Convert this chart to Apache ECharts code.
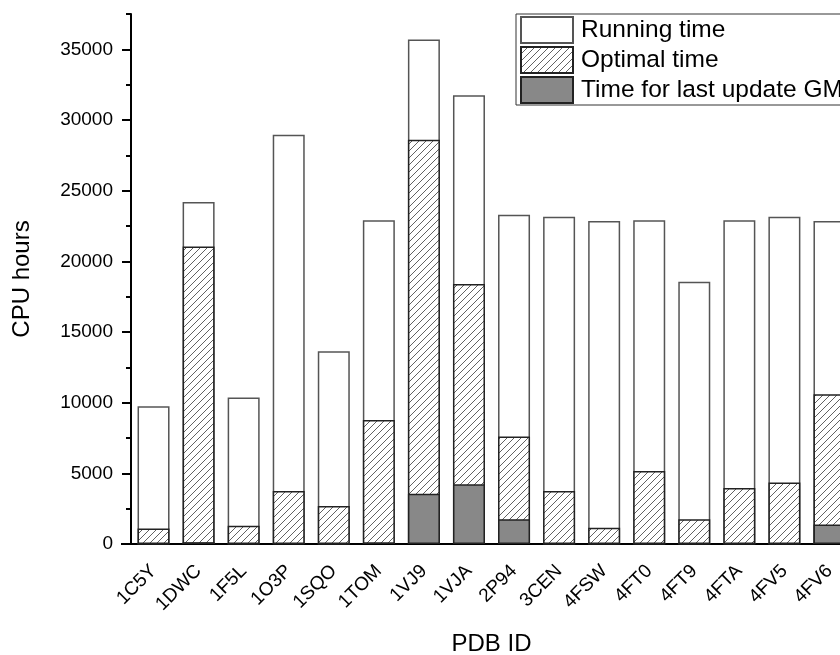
<!DOCTYPE html>
<html>
<head>
<meta charset="utf-8">
<script src="https://cdn.jsdelivr.net/npm/echarts@6/dist/echarts.min.js"></script>
<style>
html,body{margin:0;padding:0;background:#fff;}
#main{width:840px;height:655px;}
</style>
</head>
<body>
<div id="main"></div>
<script>
// PDB ids on x axis
var pdbIds=['1C5Y','1DWC','1F5L','1O3P','1SQO','1TOM','1VJ9','1VJA','2P94','3CEN','4FSW','4FT0','4FT9','4FTA','4FV5','4FV6'];
// CPU hours
var runningTime=[9750,24200,10370,28950,13630,22900,35700,31750,23300,23150,22850,22900,18550,22900,23150,22850];
var optimalTime=[1090,21050,1300,3750,2680,8780,28600,18400,7600,3750,1150,5170,1750,3970,4350,10600];
var lastUpdate=[0,120,0,40,0,100,3550,4230,1760,0,0,0,0,0,0,1380];
var majorTicks=[0,5000,10000,15000,20000,25000,30000,35000];
var minorTicks=[2500,7500,12500,17500,22500,27500,32500,37500];

//斜线填充
function hatch(){
	var c=document.createElement('canvas');
	c.width=7;c.height=7;
	var ctx=c.getContext('2d');
	ctx.fillStyle='#fff';
	ctx.fillRect(0,0,7,7);
	ctx.strokeStyle='#3a3a3a';
	ctx.lineWidth=0.8;
	ctx.beginPath();
	ctx.moveTo(0,7);ctx.lineTo(7,0);
	ctx.moveTo(-1,1);ctx.lineTo(1,-1);
	ctx.moveTo(6,8);ctx.lineTo(8,6);
	ctx.stroke();
	return c;
}

var chart=echarts.init(document.getElementById('main'));
var font='Liberation Sans';
var option={
	animation:false,
	backgroundColor:'#fff',
	grid:{left:131,right:-12,top:14,bottom:111,containLabel:false,outerBoundsMode:'none'},
	legend:{
		orient:'vertical',
		left:516,top:14,
		icon:'rect',
		itemWidth:52,itemHeight:26,itemGap:2,
		padding:[2,4,1,4],
		borderColor:'#333',borderWidth:1,
		textStyle:{fontFamily:font,fontSize:24.5,color:'#000',padding:[0,0,0,3]},
		data:['Running time','Optimal time','Time for last update GMA']
	},
	xAxis:{
		type:'category',
		data:pdbIds,
		name:'PDB ID',
		nameLocation:'middle',
		nameGap:88,
		nameTextStyle:{fontFamily:font,fontSize:24,color:'#000'},
		axisLine:{lineStyle:{color:'#000',width:2}},
		axisTick:{alignWithLabel:true,length:10,lineStyle:{color:'#000',width:2}},
		axisLabel:{rotate:45,margin:24,fontFamily:font,fontSize:19,color:'#000'}
	},
	yAxis:[{
		type:'value',
		min:0,max:37500,
		name:'CPU hours',
		nameLocation:'middle',
		nameGap:97,
		nameTextStyle:{fontFamily:font,fontSize:24,color:'#000'},
		axisLine:{show:true,lineStyle:{color:'#000',width:2}},
		axisTick:{show:true,length:9,customValues:majorTicks,lineStyle:{color:'#000',width:2}},
		axisLabel:{customValues:majorTicks,margin:18,fontFamily:font,fontSize:19,color:'#000',
			formatter:function(v){return String(v);}},
		splitLine:{show:false}
	},{
		type:'value',
		min:0,max:37500,
		position:'left',
		axisLine:{show:false},
		axisTick:{show:true,length:5,customValues:minorTicks,lineStyle:{color:'#000',width:2}},
		axisLabel:{show:false},
		splitLine:{show:false}
	}],
	series:[{
		name:'Running time',
		type:'bar',
		barWidth:32,
		barGap:'-100%',
		data:runningTime,
		itemStyle:{color:'#fff',borderColor:'#555',borderWidth:1.5}
	},{
		name:'Optimal time',
		type:'bar',
		barWidth:32,
		barGap:'-100%',
		data:optimalTime,
		itemStyle:{color:{image:hatch(),repeat:'repeat'},borderColor:'#222',borderWidth:1.5}
	},{
		name:'Time for last update GMA',
		type:'bar',
		barWidth:32,
		barGap:'-100%',
		data:lastUpdate,
		itemStyle:{color:'#888',borderColor:'#222',borderWidth:1.5}
	}],
	graphic:[{
		type:'line',
		shape:{x1:121,y1:544,x2:132,y2:544},
		style:{stroke:'#000',lineWidth:2}
	}]
};
chart.setOption(option);
</script>
</body>
</html>
